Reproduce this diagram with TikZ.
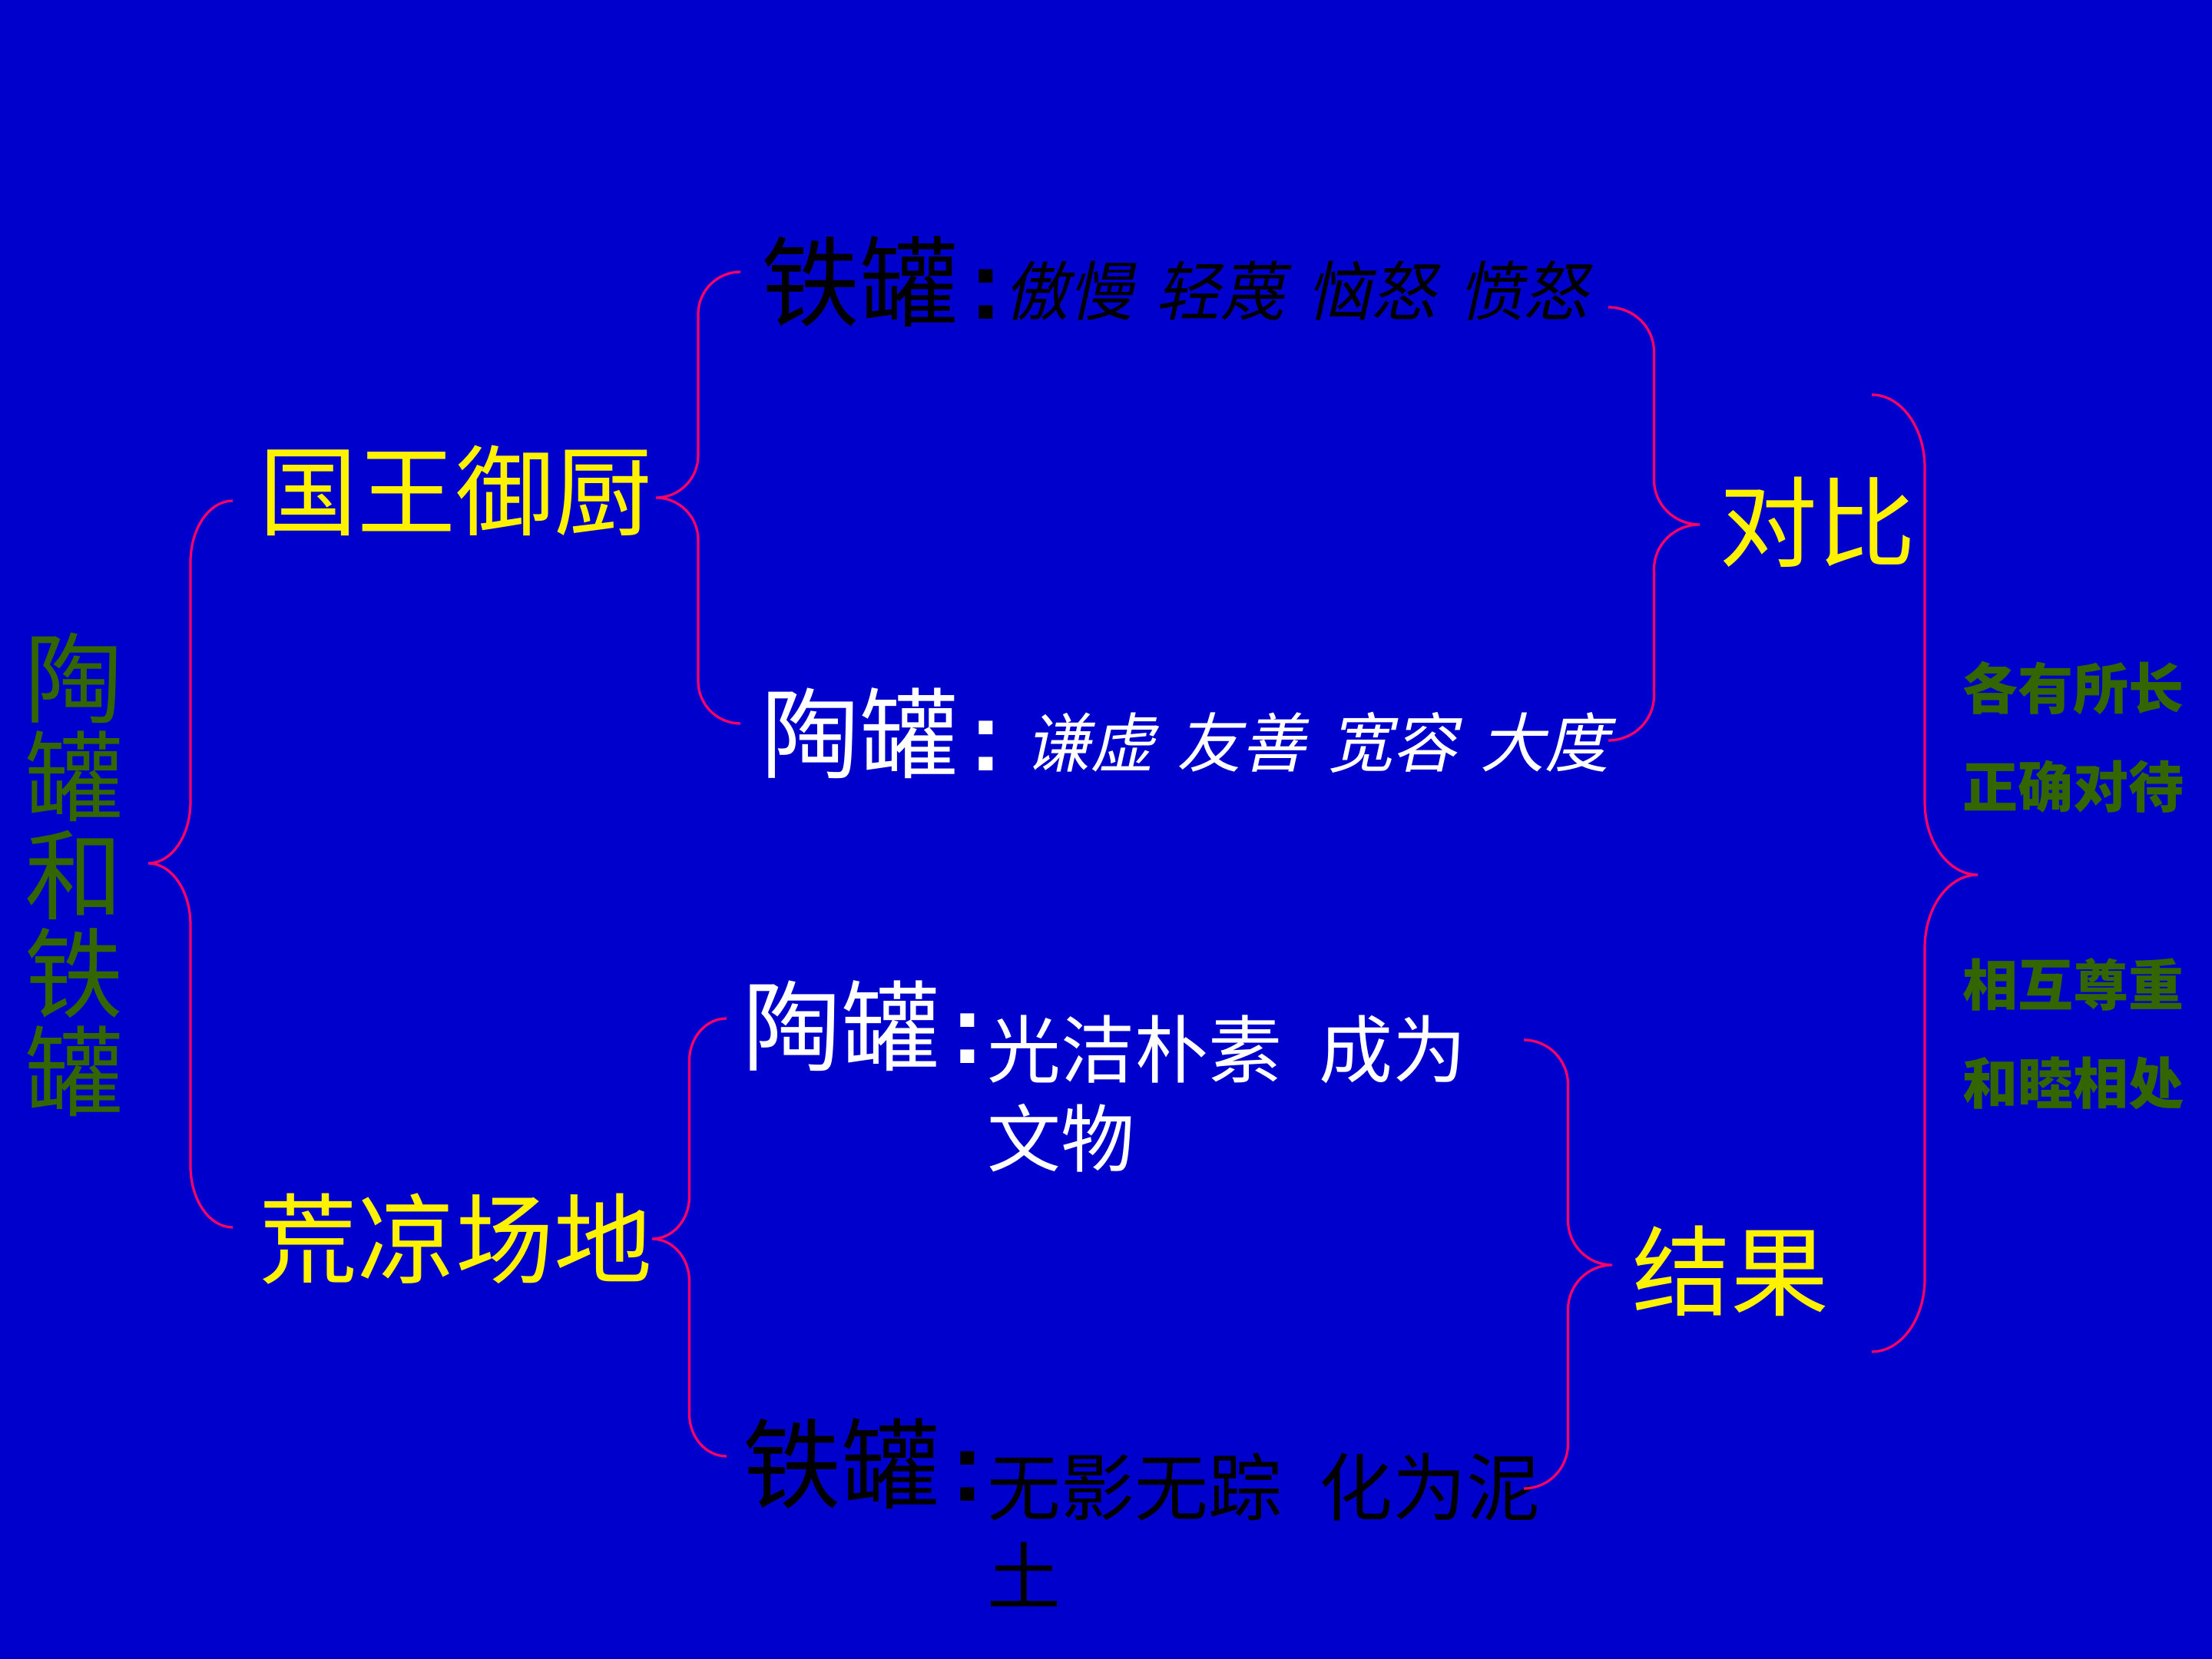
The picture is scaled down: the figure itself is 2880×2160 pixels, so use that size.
\documentclass[tikz,border=0pt]{standalone}
\usepackage{fontspec}
\setmainfont{Noto Sans CJK SC}
\newfontfamily\slanted[FakeSlant=0.22]{Noto Sans CJK SC}
\newfontfamily\latin{Liberation Sans}
\usetikzlibrary{calc}
\definecolor{slide}{RGB}{0,0,204}
\definecolor{bracered}{RGB}{255,0,102}
\definecolor{leafgreen}{RGB}{51,102,0}
\newcommand\colonmark{\hspace{.12em}{\latin\bfseries :}}
% curly brace: upper end, tip, lower end, curl height
\newcommand\bracepath[4]{%
  \coordinate (m) at ($(#1)!.5!(#2)$);
  \coordinate (p) at (#1 -| m);
  \coordinate (q) at (#2 -| m);
  \coordinate (s) at (#3 -| m);
  \draw[brace] (#1) .. controls ($(#1)!.552!(p)$) and ($(p)+(0,.448*#4)$) .. ($(p)+(0,#4)$)
    -- ($(q)+(0,-#4)$) .. controls ($(q)+(0,-.448*#4)$) and ($(#2)!.552!(q)$) .. (#2)
    .. controls ($(#2)!.552!(q)$) and ($(q)+(0,.448*#4)$) .. ($(q)+(0,#4)$)
    -- ($(s)+(0,-#4)$) .. controls ($(s)+(0,-.448*#4)$) and ($(#3)!.552!(s)$) .. (#3);
}
\begin{document}
\begin{tikzpicture}[x=.25pt,y=-.25pt,
  tag/.style={inner sep=0pt,outer sep=0pt,anchor=west},
  place/.style={tag,text=yellow,font=\fontsize{32}{32}\selectfont},
  potname/.style={tag,font=\fontsize{32}{32}\selectfont},
  trait/.style={tag,font=\slanted\fontsize{21}{25}\selectfont},
  fate/.style={inner sep=0pt,outer sep=0pt,anchor=north west,align=left,font=\fontsize{24}{29}\selectfont},
  lesson/.style={tag,align=left,text=leafgreen,font=\bfseries\fontsize{18}{32}\selectfont},
  brace/.style={draw=bracered,line width=0.8pt}]
\useasboundingbox (0,0) rectangle (2880,2160);
\fill[slide] (0,0) rectangle (2880,2160);

\node[inner sep=0pt,outer sep=0pt,align=center,text=leafgreen,font=\fontsize{32}{32}\selectfont] (title) at (97,1139) {陶\\罐\\和\\铁\\罐};

\node[place] (king) at (337,639) {国王御厨};
\node[place] (waste) at (337,1613) {荒凉场地};

\node[potname,text=black] (iron1) at (991,367) {铁罐\colonmark};
\node[trait,text=black] (irontrait) at (1307,379) {傲慢\hspace{.35em}轻蔑\hspace{.35em}恼怒\hspace{.35em}愤怒};
\node[potname,text=white] (clay1) at (991,955) {陶罐\colonmark};
\node[trait,text=white] (claytrait) at (1335,967) {谦虚\hspace{.35em}友善\hspace{.35em}宽容\hspace{.35em}大度};

\node[potname,text=white] (clay2) at (967,1336) {陶罐\colonmark};
\node[fate,text=white] (clayfate) at (1285,1322) {光洁朴素\hspace{.5em}成为\\文物};
\node[potname,text=black] (iron2) at (967,1906) {铁罐\colonmark};
\node[fate,text=black] (ironfate) at (1285,1892) {无影无踪\hspace{.5em}化为泥\\土};

\node[place] (contrast) at (2238,680) {对比};
\node[place] (result) at (2125,1655) {结果};

\node[lesson] (lesson1) at (2555,960) {各有所长\\正确对待};
\node[lesson] (lesson2) at (2555,1346) {相互尊重\\和睦相处};

% braces
\coordinate (a1) at ($(king.west)+(-34,13)$);
\coordinate (a2) at ($(title.east)+(32,-15)$);
\coordinate (a3) at ($(waste.west)+(-34,-15)$);
\bracepath{a1}{a2}{a3}{80}

\coordinate (b1) at ($(iron1.west)+(-27,-13)$);
\coordinate (b2) at ($(king.east)+(5,9)$);
\coordinate (b3) at ($(clay1.west)+(-27,-13)$);
\bracepath{b1}{b2}{b3}{55}

\coordinate (c1) at ($(irontrait.west)+(787,21)$);
\coordinate (c2) at ($(contrast.west)+(-25,3)$);
\coordinate (c3) at ($(claytrait.west)+(759,-3)$);
\bracepath{c1}{c2}{c3}{58}

\coordinate (d1) at ($(clay2.west)+(-21,-10)$);
\coordinate (d2) at (waste.east);
\coordinate (d3) at ($(iron2.west)+(-21,-10)$);
\bracepath{d1}{d2}{d3}{55}

\coordinate (e1) at ($(clayfate.north west)+(699,32)$);
\coordinate (e2) at ($(result.west)+(-26,-8)$);
\coordinate (e3) at ($(ironfate.north west)+(699,46)$);
\bracepath{e1}{e2}{e3}{58}

\coordinate (f2) at ($(lesson1.south west)!.5!(lesson2.north west)+(20,-14)$);
\coordinate (f1) at ($(f2)+(-138,-625)$);
\coordinate (f3) at ($(f2)+(-138,621)$);
\bracepath{f1}{f2}{f3}{95}
\end{tikzpicture}
\end{document}
